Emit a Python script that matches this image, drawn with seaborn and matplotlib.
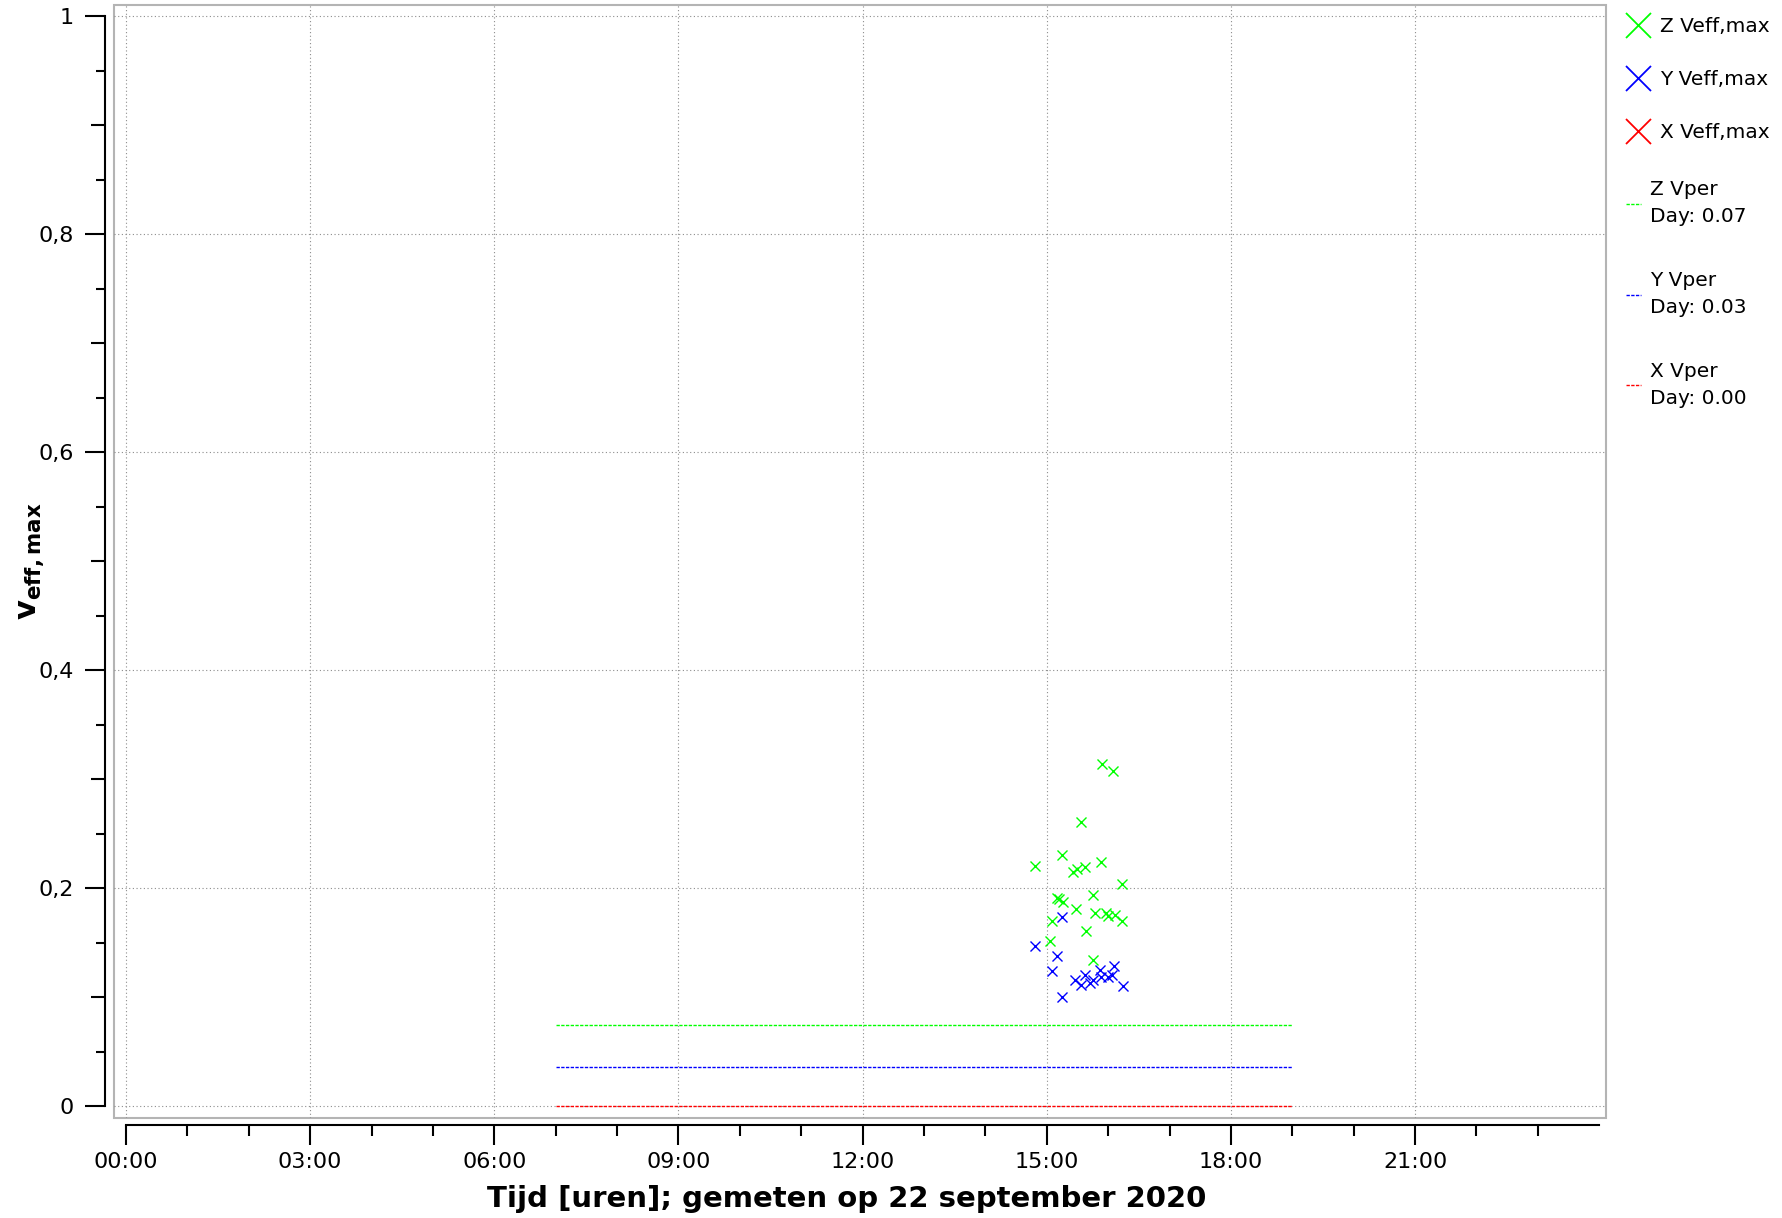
import numpy as np
import matplotlib
matplotlib.use("Agg")
import matplotlib.pyplot as plt
from matplotlib.lines import Line2D
from matplotlib.patches import Rectangle
from matplotlib.ticker import FixedLocator, FuncFormatter
import seaborn as sns

# Maximum effective velocity per event (hour of day, value)
z_time = [15.90, 16.085, 15.56, 15.25, 14.80, 15.88, 15.42, 15.49, 15.63, 16.22,
          15.75, 15.16, 15.20, 15.26, 15.47, 15.79, 15.97, 15.99, 16.11, 16.23,
          15.09, 15.64, 15.06, 15.76]
z_veff = [0.314, 0.307, 0.261, 0.230, 0.220, 0.224, 0.215, 0.217, 0.219, 0.204,
          0.194, 0.191, 0.190, 0.187, 0.181, 0.177, 0.177, 0.174, 0.175, 0.170,
          0.170, 0.161, 0.151, 0.134]
y_time = [15.25, 14.80, 15.17, 15.09, 15.25, 15.46, 15.55, 15.63, 15.75, 15.87,
          15.88, 16.09, 16.07, 16.00, 16.24, 15.70]
y_veff = [0.173, 0.147, 0.138, 0.124, 0.100, 0.116, 0.111, 0.120, 0.116, 0.125,
          0.118, 0.128, 0.120, 0.118, 0.110, 0.113]
x_time = []
x_veff = []

# Day-period values (Vper) and the period they cover
axes_names = ["Z", "Y", "X"]
vper_values = [0.0746, 0.0361, 0.0]
period_start = 7.0
period_end = 19.0

colors = {"Z": "#00ff00", "Y": "#0000ff", "X": "#ff0000"}

sns.set_style("white")
plt.rcParams["font.family"] = ["DejaVu Sans"]
plt.rcParams["text.color"] = "black"
plt.rcParams["axes.labelcolor"] = "black"
plt.rcParams["xtick.color"] = "black"
plt.rcParams["ytick.color"] = "black"

fig = plt.figure(figsize=(17.82, 12.18), dpi=100)
W, H = 1782, 1218
ax = fig.add_axes([114 / W, (H - 1118) / H, 1492 / W, 1113 / H])

# horizontal Vper lines
for name, v in zip(axes_names, vper_values):
    ax.hlines(v, period_start, period_end, colors=colors[name], lw=1.0,
              linestyles=(0, (2.4, 1.0)), zorder=3)

# scatter series
series = [("X", x_time, x_veff), ("Y", y_time, y_veff), ("Z", z_time, z_veff)]
for name, t, v in series:
    if len(t):
        sns.scatterplot(x=t, y=v, ax=ax, marker="x", s=52, color=colors[name],
                        linewidth=1.0, legend=False, zorder=4)

ax.set_xlim(-0.1955, 24.11)
ax.set_ylim(-0.011, 1.0101)

# frame
for s in ["top", "right"]:
    ax.spines[s].set_visible(False)
ax.add_patch(Rectangle((0, 0), 1, 1, transform=ax.transAxes, fill=False,
                       ec="#b4b4b4", lw=1.5, clip_on=False, zorder=0))
ax.spines["left"].set_position(("outward", 6.3))
ax.spines["bottom"].set_position(("outward", 5.0))
ax.spines["left"].set_bounds(0, 1)
ax.spines["bottom"].set_bounds(0, 24)
for s in ["left", "bottom"]:
    ax.spines[s].set_color("black")
    ax.spines[s].set_linewidth(1.5)

# y ticks: majors every 0.1, labelled every 0.2
yt = [round(i * 0.1, 1) for i in range(11)]
ax.yaxis.set_major_locator(FixedLocator(yt))
ax.yaxis.set_minor_locator(FixedLocator([round(0.05 + i * 0.1, 2) for i in range(10)]))

def yfmt(v, pos):
    k = int(round(v * 10))
    if k % 2:
        return ""
    if k == 0:
        return "0"
    if k == 10:
        return "1"
    return f"{v:.1f}".replace(".", ",")

ax.yaxis.set_major_formatter(FuncFormatter(yfmt))

# x ticks: labelled every 3 hours, minor every hour
ax.xaxis.set_major_locator(FixedLocator(list(range(0, 24, 3))))
ax.xaxis.set_minor_locator(FixedLocator([h for h in range(1, 24) if h % 3]))
ax.xaxis.set_major_formatter(FuncFormatter(lambda h, pos: f"{int(round(h)):02d}:00"))

ax.tick_params(axis="both", which="both", direction="out", width=1.5, color="black",
               left=True, bottom=True, labelsize=16, labelcolor="black")
ax.tick_params(axis="y", which="major", length=14.5, pad=8)
ax.tick_params(axis="y", which="minor", length=6.5)
ax.tick_params(axis="x", which="major", length=14.5, pad=5)
ax.tick_params(axis="x", which="minor", length=8)

# grid
ax.grid(True, which="major", color="#8c8c8c", lw=0.8, linestyle=(0, (1, 2.3)))
ax.set_axisbelow(True)

for i, tk in enumerate(ax.yaxis.get_major_ticks()):
    if i % 2:
        tk.tick1line.set_markersize(10)
        tk.gridline.set_visible(False)

ax.set_xlabel("Tijd [uren]; gemeten op 22 september 2020", fontsize=21,
              fontweight="bold")
ax.xaxis.set_label_coords(0.491, -0.0728)
ax.xaxis.label.set_va("center")
ax.set_ylabel(r"$\mathbf{v_{eff,max}}$", fontsize=22)
ax.yaxis.set_label_coords(-0.0545, 0.5)
ax.yaxis.label.set_va("center")

# legends
marker_handles = [Line2D([], [], marker="x", ls="", color=colors[n], markersize=18,
                         mew=1.3) for n in axes_names]
marker_labels = [f"{n} Veff,max" for n in axes_names]
leg1 = fig.legend(marker_handles, marker_labels, loc="upper left",
                  bbox_to_anchor=(1626 / W, 1 - 17 / H), frameon=False,
                  fontsize=14.5, borderpad=0, borderaxespad=0, handlelength=1.2,
                  handletextpad=0.5, labelspacing=1.7)

def trunc2(v):
    return f"{np.floor(v * 100 + 1e-9) / 100:.2f}"

line_handles = [Line2D([], [], color=colors[n], lw=1.0, linestyle=(0, (2.4, 1.0)))
                for n in axes_names]
line_labels = [f"{n} Vper\nDay: {trunc2(v)}" for n, v in zip(axes_names, vper_values)]
leg2 = fig.legend(line_handles, line_labels, loc="upper left",
                  bbox_to_anchor=(1626 / W, 1 - 180 / H), frameon=False,
                  fontsize=14.5, borderpad=0, borderaxespad=0, handlelength=0.75,
                  handletextpad=0.42, labelspacing=2.22)
for t in leg2.get_texts():
    t.set_linespacing(1.55)

fig.savefig("out.png", dpi=100)
